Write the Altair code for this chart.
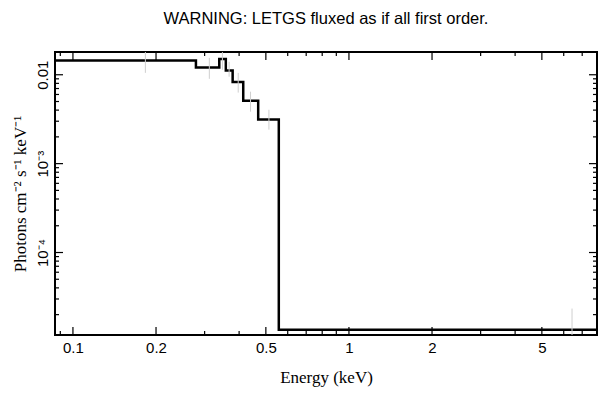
import altair as alt
import pandas as pd

# Model step (bin left edges, flux levels) — last value repeated at the end edge
step_E = [0.08, 0.279, 0.339, 0.358, 0.379, 0.414, 0.469, 0.557, 9.0]
step_F = [0.01449, 0.01208, 0.01503, 0.01117, 0.00828, 0.00509, 0.00314, 1.35e-5, 1.35e-5]

# Data error bars (energy, low, high)
err_E = [0.183, 0.312, 0.348, 0.368, 0.397, 0.44, 0.513, 6.43]
err_lo = [0.0105, 0.0090, 0.0114, 0.0095, 0.0063, 0.00384, 0.00241, 1.0e-5]
err_hi = [0.0201, 0.0155, 0.0180, 0.0140, 0.0105, 0.00645, 0.00404, 2.34e-5]

x_major = [0.1, 0.2, 0.5, 1, 2, 5]
x_minor = [0.09, 0.3, 0.4, 0.6, 0.7, 0.8, 0.9, 3, 4, 6, 7]
y_major = [1e-4, 1e-3, 1e-2]
y_minor = [m * d for d in [1e-5, 1e-4, 1e-3] for m in range(2, 10)]

W, H = 542, 283
SANS = "Liberation Sans"
SERIF = "Liberation Serif"
XT = "Energy (keV)"
YT = "Photons cm⁻² s⁻¹ keV⁻¹"

xscale = alt.Scale(type="log", domain=[0.0861, 7.92], nice=False)
yscale = alt.Scale(type="log", domain=[1.18e-5, 0.01803], nice=False)

step_df = pd.DataFrame({"E": step_E, "F": step_F})
err_df = pd.DataFrame({"E": err_E, "lo": err_lo, "hi": err_hi})

step = alt.Chart(step_df).mark_line(
    interpolate="step-after", color="black", strokeWidth=2.5, clip=True
).encode(
    x=alt.X(
        "E:Q", scale=xscale, title=XT,
        axis=alt.Axis(values=x_major, format="~g", ticks=False, domain=False, grid=False,
                      labelFont=SANS, labelFontSize=15, labelColor="black", labelPadding=5,
                      titleFont=SERIF, titleFontSize=17, titleFontWeight="normal",
                      titleColor="black", titlePadding=14),
    ),
    y=alt.Y(
        "F:Q", scale=yscale, title=YT,
        axis=alt.Axis(values=y_major, ticks=False, domain=False, grid=False,
                      labelExpr="datum.value > 0.005 ? '0.01' : (datum.value > 0.0005 ? '10⁻³' : '10⁻⁴')",
                      labelAngle=-90, labelAlign="center", labelBaseline="bottom",
                      labelFont=SANS, labelFontSize=15, labelColor="black", labelPadding=5,
                      titleFont=SERIF, titleFontSize=17, titleFontWeight="normal",
                      titleColor="black", titlePadding=6),
    ),
)

errs = alt.Chart(err_df).mark_rule(color="#cfcfcf", strokeWidth=1, clip=True).encode(
    x=alt.X("E:Q", scale=xscale, title=XT),
    y=alt.Y("lo:Q", scale=yscale, title=YT),
    y2="hi:Q",
)

layers = [step, errs]

def xticks(vals, y0, y1):
    df = pd.DataFrame({"E": vals})
    return alt.Chart(df).mark_rule(color="black", strokeWidth=1.2).encode(
        x=alt.X("E:Q", scale=xscale, title=XT), y=alt.value(y0), y2=alt.value(y1))

def yticks(vals, x0, x1):
    df = pd.DataFrame({"F": vals})
    return alt.Chart(df).mark_rule(color="black", strokeWidth=1.2).encode(
        y=alt.Y("F:Q", scale=yscale, title=YT), x=alt.value(x0), x2=alt.value(x1))

layers += [
    xticks(x_major, 0, 8), xticks(x_minor, 0, 4),
    xticks(x_major, H, H - 8), xticks(x_minor, H, H - 4),
    yticks(y_major, 0, 8), yticks(y_minor, 0, 4),
    yticks(y_major, W, W - 8), yticks(y_minor, W, W - 4),
]

chart = alt.layer(*layers).properties(
    width=W, height=H,
    title=alt.TitleParams("WARNING: LETGS fluxed as if all first order.", font=SANS,
                          fontSize=16.5, fontWeight="normal", color="black",
                          anchor="middle", offset=24),
    autosize=alt.AutoSizeParams(type="none"),
    padding={"left": 47, "top": 44, "right": 4, "bottom": 55},
).configure_view(stroke="black", strokeWidth=2)

chart.save("out.html", embed_options={"renderer": "svg", "actions": False})
